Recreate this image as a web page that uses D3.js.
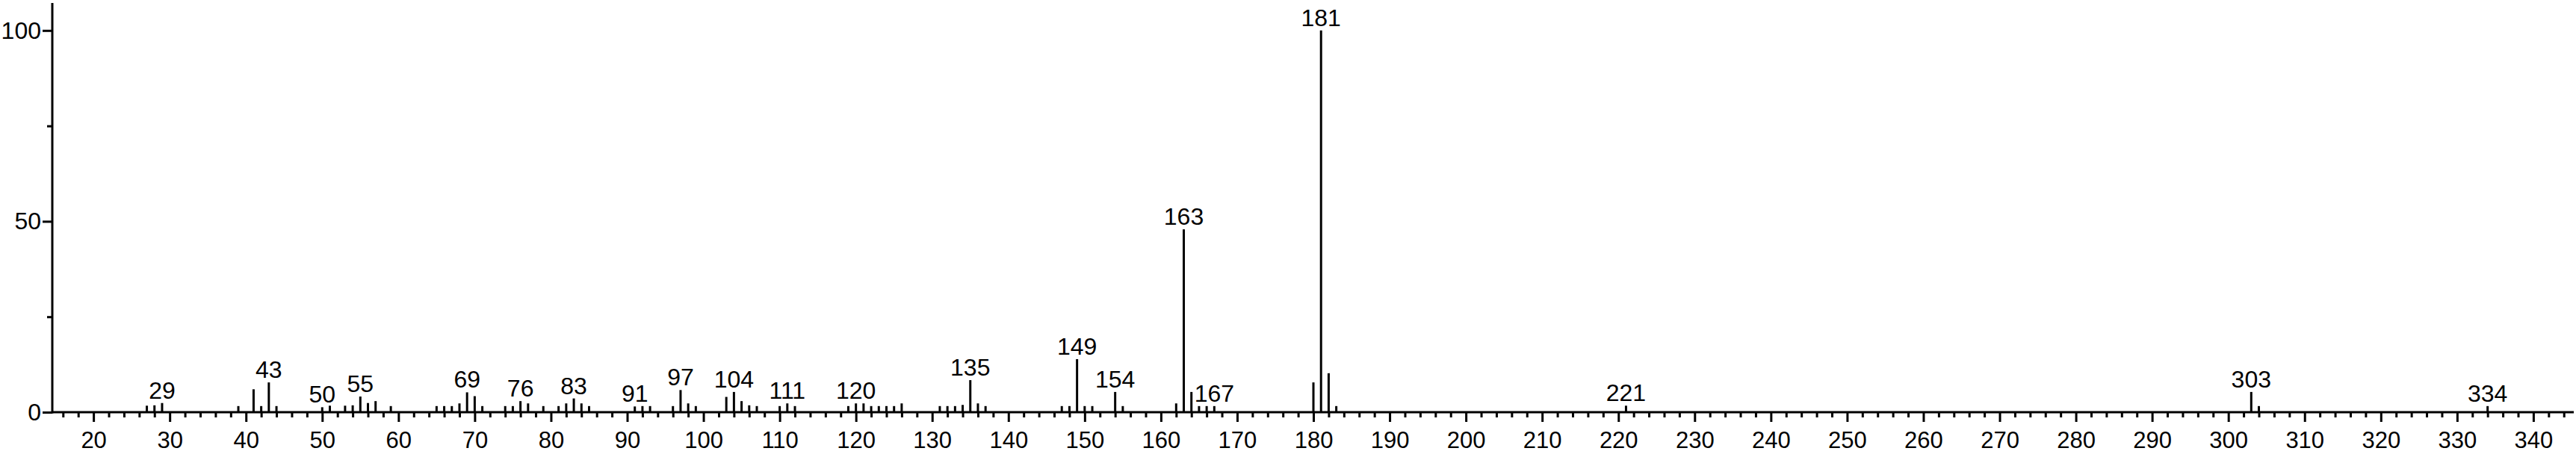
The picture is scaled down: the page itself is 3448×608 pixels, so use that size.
<!DOCTYPE html>
<html>
<head>
<meta charset="utf-8">
<script src="https://cdn.jsdelivr.net/npm/d3@7"></script>
<style>
  html, body { margin: 0; padding: 0; background: #fff; }
  #spectrum-chart { width: 3448px; height: 608px; }
  text { font-family: "Liberation Sans", Arial, Helvetica, sans-serif; fill: #000; }
</style>
</head>
<body>
<div id="spectrum-chart"></div>
<script>
// m/z values and relative intensities
const mzValues = [
  27, 28, 29, 39, 41, 42, 43, 44, 50, 51, 53, 54, 55, 56, 57, 59,
  65, 66, 67, 68, 69, 70, 71, 74, 75, 76, 77, 79, 81, 82, 83, 84, 85,
  91, 92, 93, 96, 97, 98, 99, 103, 104, 105, 106, 107, 110, 111, 112,
  119, 120, 121, 122, 123, 124, 125, 126, 131, 132, 133, 134, 135, 136, 137,
  147, 148, 149, 150, 151, 154, 155, 162, 163, 164, 165, 166, 167,
  180, 181, 182, 183, 221, 303, 304, 334
]
const intensities = [
  1.7, 1.8, 2.4, 1.6, 6.0, 1.6, 7.8, 1.6, 1.3, 1.7, 1.7, 1.8, 4.1, 2.4, 2.9, 1.6,
  1.6, 1.6, 1.6, 2.3, 5.2, 4.2, 1.6, 1.6, 1.6, 2.9, 2.3, 1.6, 1.6, 2.3, 3.6, 2.3, 1.6,
  1.5, 1.6, 1.6, 1.6, 5.8, 2.3, 1.6, 4.0, 5.3, 2.9, 1.8, 1.6, 1.6, 2.3, 1.6,
  1.6, 2.3, 2.3, 1.6, 1.6, 1.6, 1.6, 2.3, 1.6, 1.6, 1.6, 1.9, 8.4, 2.3, 1.6,
  1.6, 1.6, 13.9, 1.6, 1.6, 5.3, 1.6, 2.3, 47.9, 5.3, 1.6, 1.6, 1.6,
  7.8, 100, 10.2, 1.6, 1.7, 5.3, 1.6, 1.6
]
const labeledPeaks = [29, 43, 50, 55, 69, 76, 83, 91, 97, 104, 111, 120, 135, 149, 154, 163, 167, 181, 221, 303, 334]
const xMajorTicks = d3.range(20, 341, 10)
const xMinorTicks = d3.range(16, 346, 2).filter((v) => v % 10 !== 0)
const yMajorTicks = [0, 50, 100]
const yMinorTicks = [25, 75]

function createSpectrumChart() {
  const container = document.getElementById("spectrum-chart")
  const width = 3448
  const height = 608

  const svg = d3
    .select(container)
    .append("svg")
    .attr("width", width)
    .attr("height", height)
    .attr("viewBox", `0 0 ${width} ${height}`)

  const peaks = mzValues.map((mz, i) => ({ mz, value: intensities[i] }))

  const xScale = d3.scaleLinear().domain([14.6, 345.3]).range([70, 3445])
  const yScale = d3.scaleLinear().domain([0, 107.2]).range([552, 4])

  // peaks
  svg
    .selectAll(".peak")
    .data(peaks)
    .enter()
    .append("line")
    .attr("class", "peak")
    .attr("x1", (d) => xScale(d.mz))
    .attr("x2", (d) => xScale(d.mz))
    .attr("y1", yScale(0))
    .attr("y2", (d) => yScale(d.value))
    .attr("stroke", "#000")
    .attr("stroke-width", 3)

  // x axis: major ticks with labels, minor ticks without
  const xAxis = svg
    .append("g")
    .attr("transform", `translate(0,${yScale(0)})`)
    .call(d3.axisBottom(xScale).tickValues(xMajorTicks).tickSize(13).tickSizeOuter(0).tickFormat(d3.format("d")))

  xAxis.select(".domain").remove()
  xAxis.selectAll(".tick line").attr("stroke", "#000").attr("stroke-width", 3)
  xAxis
    .selectAll(".tick text")
    .attr("y", 48)
    .attr("dy", 0)
    .attr("font-size", "31px")
    .attr("font-family", null)

  const xMinor = svg
    .append("g")
    .attr("transform", `translate(0,${yScale(0)})`)
    .call(d3.axisBottom(xScale).tickValues(xMinorTicks).tickSize(7).tickSizeOuter(0).tickFormat(""))

  xMinor.select(".domain").remove()
  xMinor.selectAll(".tick line").attr("stroke", "#000").attr("stroke-width", 3)

  // y axis
  const yAxis = svg
    .append("g")
    .attr("transform", `translate(${xScale.range()[0]},0)`)
    .call(d3.axisLeft(yScale).tickValues(yMajorTicks).tickSize(13).tickPadding(2).tickSizeOuter(0))

  yAxis.select(".domain").remove()
  yAxis.selectAll(".tick line").attr("stroke", "#000").attr("stroke-width", 3)
  yAxis.selectAll(".tick text").attr("font-size", "32px").attr("font-family", null)

  const yMinor = svg
    .append("g")
    .attr("transform", `translate(${xScale.range()[0]},0)`)
    .call(d3.axisLeft(yScale).tickValues(yMinorTicks).tickSize(7).tickSizeOuter(0).tickFormat(""))

  yMinor.select(".domain").remove()
  yMinor.selectAll(".tick line").attr("stroke", "#000").attr("stroke-width", 3)

  // axis lines
  svg
    .append("line")
    .attr("x1", xScale.range()[0])
    .attr("x2", xScale.range()[1])
    .attr("y1", yScale(0))
    .attr("y2", yScale(0))
    .attr("stroke", "#000")
    .attr("stroke-width", 3)

  svg
    .append("line")
    .attr("x1", xScale.range()[0])
    .attr("x2", xScale.range()[0])
    .attr("y1", yScale(0) + 1.5)
    .attr("y2", yScale.range()[1])
    .attr("stroke", "#000")
    .attr("stroke-width", 3)

  // peak labels
  svg
    .selectAll(".peak-label")
    .data(peaks.filter((d) => labeledPeaks.includes(d.mz)))
    .enter()
    .append("text")
    .attr("class", "peak-label")
    .attr("x", (d) => xScale(d.mz))
    .attr("y", (d) => yScale(d.value) - 6)
    .attr("text-anchor", "middle")
    .attr("font-size", "32px")
    .text((d) => d.mz)
}

createSpectrumChart()
</script>
</body>
</html>
